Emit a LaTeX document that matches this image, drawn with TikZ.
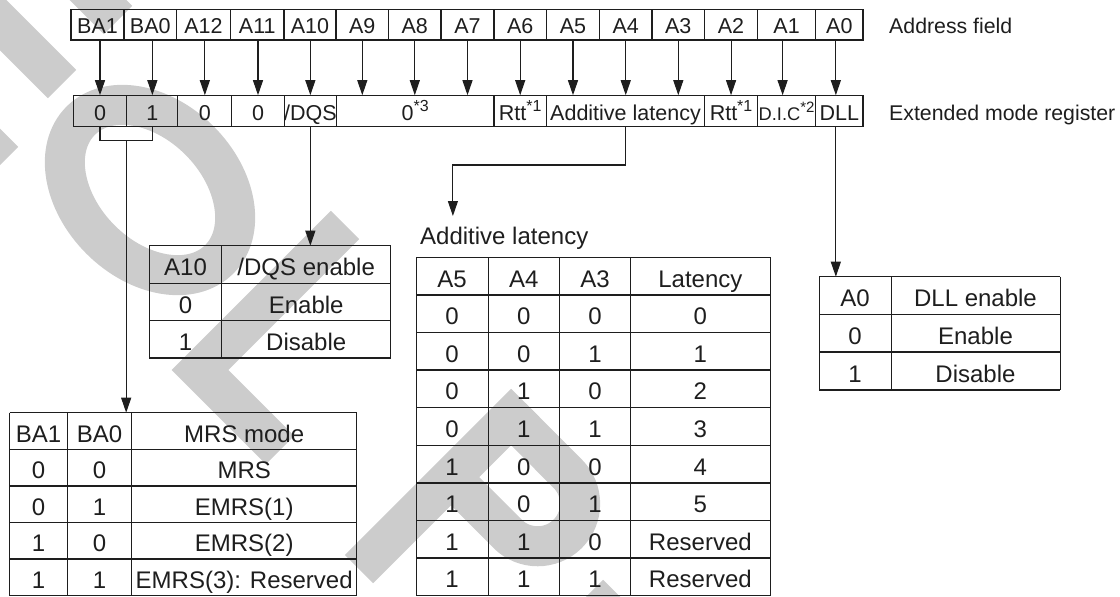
\documentclass[tikz,border=0pt]{standalone}
\usepackage{fontspec}
\setmainfont{Liberation Sans}
\usetikzlibrary{arrows.meta,calc}
\definecolor{wm}{RGB}{204,204,204}
\definecolor{ink}{RGB}{30,30,30}
\newcommand\mysup[2]{\raisebox{0.42em}{\fontsize{#1}{#1}\selectfont #2}}
\begin{document}
\begin{tikzpicture}[x=1pt,y=-1pt,
  abox/.style={draw=ink, line width=1.1pt, inner sep=0pt, minimum height=30.5pt, text=ink,
    font=\fontsize{21.5}{25}\selectfont, text height=18.4pt, text depth=0pt},
  arr/.style={draw=ink, line width=1.1pt, -{Triangle[length=15pt,width=10pt]}},
  ln/.style={draw=ink, line width=1.1pt},
  hl/.style={draw=ink, line width=1.5pt},
  vl/.style={draw=ink, line width=1.0pt},
  tt/.style={inner sep=0pt, text=ink, font=\fontsize{24}{28}\selectfont, text height=22pt, text depth=0pt},
  lab/.style={inner sep=0pt, text=ink, font=\fontsize{21.3}{25}\selectfont, text height=18.3pt, text depth=0pt, anchor=west},
  tab/.style={inner sep=0pt, outer sep=0pt, anchor=north west},
  wmk/.style={draw=wm, line width=40pt, line cap=butt, line join=miter}]
\useasboundingbox (0,0) rectangle (1120,597);

% ---------- watermark ----------
\begin{scope}
\clip (0,0) rectangle (1120,597);
\draw[wmk] (-150,7) -- (4,161);
\draw[wmk] (-100,-78) -- (62,84);
\draw[wmk] (-60,-158) -- (118,20);
\draw[wmk, rotate around={-45:(150,190)}] (150,190) ellipse [x radius=98, y radius=70];
\draw[wmk] (345,225) -- (200,370) -- (280,450);
\draw[wmk] (525.3,402.9) -- (359.1,569.1);
\draw[wmk] (511.2,417.1) -- (567.7,473.7) arc[start angle=-45, end angle=135, radius=42.5] -- (451.1,477.2);
\draw[wmk] (500.6,710.6) -- (617.2,593.9);
\end{scope}

% ---------- address field ----------
\foreach \l/\r/\t/\n in {71/124/BA1/a1,124/176.5/BA0/a2,176.5/230.5/A12/a3,230.5/284/A11/a4,284/336/A10/a5,336/388.6/A9/a6,388.6/441/A8/a7,441/494/A7/a8,494/546.5/A6/a9,546.5/599.5/A5/a10,599.5/652/A4/a11,652/704.6/A3/a12,704.6/757.5/A2/a13,757.5/815.7/A1/a14,815.7/863/A0/a15}
  \node[abox, minimum width={\r-\l}] (\n) at ({(\l+\r)/2},24.7) {\t};

% ---------- extended mode register ----------
\node[abox, minimum width=53.6] (r1) at (100,111) {0};
\node[abox, minimum width=51.1] (r2) at (152.35,111) {1};
\node[abox, minimum width=53.9] (r3) at (204.85,111) {0};
\node[abox, minimum width=52.4] (r4) at (258,111) {0};
\node[abox, minimum width=52.3] (r5) at (310.35,111) {/DQS};
\node[abox, minimum width=157.5] (r6) at (415.25,111) {0\mysup{16}{*3}};
\node[abox, minimum width=52.4] (r7) at (520.2,111) {Rtt\mysup{16}{*1}};
\node[abox, minimum width=158.2] (r8) at (625.5,111) {Additive latency};
\node[abox, minimum width=52.9] (r9) at (731.05,111) {Rtt\mysup{16}{*1}};
\node[abox, minimum width=58.2, font=\fontsize{18.3}{22}\selectfont] (r10) at (786.6,111) {D.I.C\mysup{15}{*2}};
\node[abox, minimum width=47.3] (r11) at (839.35,111) {DLL};

\node[lab] (lafield) at (889,24.7) {Address field};
\node[lab] (lemr) at (889,111) {Extended mode register};

% ---------- arrows address -> register ----------
\draw[arr] (r1.north |- a1.south) -- (r1.north);
\draw[arr] (r2.north |- a2.south) -- (r2.north);
\draw[arr] (r3.north |- a3.south) -- (r3.north);
\draw[arr] (r4.north |- a4.south) -- (r4.north);
\draw[arr] (r5.north |- a5.south) -- (r5.north);
\draw[arr] (a6.south) -- (a6.south |- r6.north);
\draw[arr] (a7.south) -- (a7.south |- r6.north);
\draw[arr] (a8.south) -- (a8.south |- r6.north);
\draw[arr] (r7.north |- a9.south) -- (r7.north);
\draw[arr] (a10.south) -- (a10.south |- r8.north);
\draw[arr] (a11.south) -- (a11.south |- r8.north);
\draw[arr] (a12.south) -- (a12.south |- r8.north);
\draw[arr] (r9.north |- a13.south) -- (r9.north);
\coordinate (p14) at ([xshift=-4pt]a14.south);
\draw[arr] (p14) -- (p14 |- r10.north);
\coordinate (p15) at ([xshift=-3.5pt]a15.south);
\draw[arr] (p15) -- (p15 |- r11.north);

% ---------- table frames (invisible nodes) ----------
\node[tab, minimum width=241.4, minimum height=112.5] (dqstab) at (149.3,245.7) {};
\node[tab, minimum width=347.2, minimum height=183] (mrstab) at (9.5,412.7) {};
\node[tab, minimum width=354, minimum height=338.4] (altab) at (416,257.3) {};
\node[tab, minimum width=241, minimum height=113.3] (dlltab) at (819,276.7) {};

% ---------- connectors to tables ----------
\coordinate (bk) at ($(r1.south)!0.5!(r2.south)+(0,13.3)$);
\draw[ln] (r1.south) -- (r1.south |- bk) -- (r2.south |- bk) -- (r2.south);
\draw[arr] (bk) -- (bk |- mrstab.north);
\draw[arr] (r5.south) -- (r5.south |- dqstab.north);
\coordinate (alk) at (452.9,165);
\coordinate (alend) at (452.9,216);
\draw[arr] (r8.south) |- (alk) -- (alend);
\coordinate (dl) at ([xshift=-3.5pt]r11.south);
\draw[arr] (dl) -- (dl |- dlltab.north);

% ---------- /DQS table ----------
\foreach \y in {245.7,283.3,320.7,358.2} \draw[hl] (149.3,\y) -- (390.7,\y);
\foreach \x in {149.3,221.7,390.7} \draw[vl] (\x,245.7) -- (\x,358.2);
\node[tt] (q1a) at (185.5,264.5) {A10};
\node[tt] (q1b) at (306.2,264.5) {/DQS enable};
\node[tt] (q2a) at (185.5,302) {0};
\node[tt] (q2b) at (306.2,302) {Enable};
\node[tt] (q3a) at (185.5,339.45) {1};
\node[tt] (q3b) at (306.2,339.45) {Disable};

% ---------- MRS table ----------
\foreach \i in {0,...,5} \draw[hl] (9.5,{412.7+36.6*\i}) -- (356.7,{412.7+36.6*\i});
\foreach \x in {9.5,67.5,131.7,356.7} \draw[vl] (\x,412.7) -- (\x,595.7);
\foreach \a/\b/\c [count=\i] in {BA1/BA0/{MRS mode},0/0/MRS,0/1/{EMRS(1)},1/0/{EMRS(2)},1/1/{EMRS(3): Reserved}}{
  \node[tt] (ma\i) at (38.5,{412.7+36.6*(\i-0.5)}) {\a};
  \node[tt] (mb\i) at (99.6,{412.7+36.6*(\i-0.5)}) {\b};
  \node[tt] (mc\i) at (244.2,{412.7+36.6*(\i-0.5)}) {\c};
}

% ---------- Additive latency table ----------
\node[tt, anchor=west] (allab) at (420,233.5) {Additive latency};
\foreach \i in {0,...,9} \draw[hl] (416,{257.3+37.6*\i}) -- (770,{257.3+37.6*\i});
\foreach \x in {416,488.3,559.3,630.7,770} \draw[vl] (\x,257.3) -- (\x,595.7);
\foreach \a/\b/\c/\d [count=\i] in {A5/A4/A3/Latency,0/0/0/0,0/0/1/1,0/1/0/2,0/1/1/3,1/0/0/4,1/0/1/5,1/1/0/Reserved,1/1/1/Reserved}{
  \node[tt] (la\i) at (452.15,{257.3+37.6*(\i-0.5)}) {\a};
  \node[tt] (lb\i) at (523.8,{257.3+37.6*(\i-0.5)}) {\b};
  \node[tt] (lc\i) at (595,{257.3+37.6*(\i-0.5)}) {\c};
  \node[tt] (ld\i) at (700.35,{257.3+37.6*(\i-0.5)}) {\d};
}

% ---------- DLL table ----------
\foreach \y in {276.7,314.5,352.2,390} \draw[hl] (819,\y) -- (1060,\y);
\foreach \x in {819,891,1060} \draw[vl] (\x,276.7) -- (\x,390);
\foreach \a/\b [count=\i] in {A0/{DLL enable},0/Enable,1/Disable}{
  \node[tt] (da\i) at (855,{276.7+37.77*(\i-0.5)}) {\a};
  \node[tt] (db\i) at (975.5,{276.7+37.77*(\i-0.5)}) {\b};
}
\end{tikzpicture}
\end{document}
